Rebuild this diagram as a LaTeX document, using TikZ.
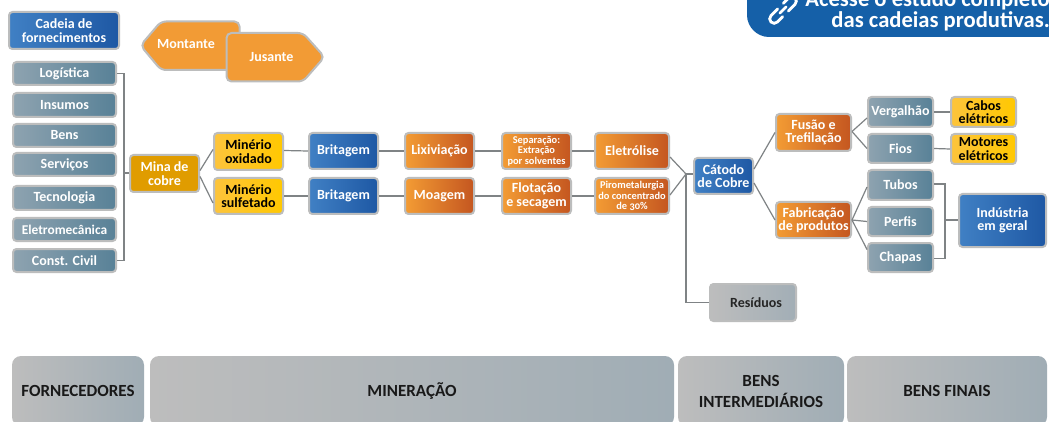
\documentclass[tikz,border=0pt]{standalone}
\usepackage{fontspec}
\setmainfont[Numbers=OldStyle]{Carlito}
\usetikzlibrary{calc}
\definecolor{edgegray}{HTML}{BCBDBD}
\definecolor{linkgray}{HTML}{7F8385}
\definecolor{bannerblue}{HTML}{1560A8}
\definecolor{orangeflat}{HTML}{F29B35}
\definecolor{blueL}{HTML}{4080C4}
\definecolor{blueR}{HTML}{1E58A4}
\definecolor{steelL}{HTML}{8EA3B0}
\definecolor{steelR}{HTML}{588197}
\definecolor{orangeL}{HTML}{F39C34}
\definecolor{orangeR}{HTML}{C45620}
\definecolor{yellowL}{HTML}{FDC43C}
\definecolor{yellowR}{HTML}{FFC800}
\definecolor{minaC}{HTML}{E09C00}
\definecolor{grayL}{HTML}{BDBDBD}
\definecolor{grayR}{HTML}{A2AEB6}
\definecolor{bandR}{HTML}{A0ADB5}
\tikzset{
  x=1pt,y=-1pt,
  boxbase/.style={draw=edgegray,line width=2pt,rounded corners=3.5pt,inner sep=0pt,align=center,font=\bfseries\fontsize{14}{13.5}\selectfont},
  blueb/.style={boxbase,left color=blueL,right color=blueR,text=white},
  steelb/.style={boxbase,left color=steelL,right color=steelR,text=white},
  orangeb/.style={boxbase,left color=orangeL,right color=orangeR,text=white},
  yellowb/.style={boxbase,left color=yellowL,right color=yellowR,text=black},
  minab/.style={boxbase,fill=minaC,text=white},
  grayb/.style={boxbase,left color=grayL,right color=grayR,text=black!85},
  bandb/.style={rounded corners=9pt,inner sep=0pt,align=center,left color=grayL,right color=bandR,text=black!90,font=\bfseries\fontsize{17}{21}\selectfont},
  hexb/.style={draw=edgegray,line width=2pt,rounded corners=5pt,fill=orangeflat},
  hextext/.style={text=white,inner sep=0pt,font=\bfseries\fontsize{14}{13.5}\selectfont},
  conn/.style={draw=linkgray,line width=1.2pt},
  smalltext/.style={font=\bfseries\fontsize{10.4}{10.5}\selectfont},
  tightertext/.style={font=\bfseries\fontsize{13.4}{13.5}\selectfont},
}
\newcommand{\bx}[7]{%
  \pgfmathsetmacro{\bxw}{#5-#3-2}%
  \pgfmathsetmacro{\bxh}{#6-#4-2}%
  \pgfmathsetmacro{\bxx}{(#3+#5)/2}%
  \pgfmathsetmacro{\bxy}{(#4+#6)/2}%
  \node[#2,minimum width=\bxw pt,minimum height=\bxh pt] (#1) at (\bxx,\bxy) {#7};}
\begin{document}
\begin{tikzpicture}
\useasboundingbox (0,0) rectangle (1049,422);
\fill[white] (0,0) rectangle (1049,422);
% banner
\fill[bannerblue] (747,-20) -- (747,15) .. controls (747,27) and (757,37) .. (769,37) -- (1060,37) -- (1060,-20) -- cycle;
\node[text=white,anchor=north east,inner sep=0pt,align=right,font=\bfseries\fontsize{22.6}{21}\selectfont] (bannertext) at (1050,-9.5) {Acesse o estudo completo\\das cadeias produtivas.};
\begin{scope}[shift={(783,10)},rotate=45,line width=2.8pt,white,line cap=round,rounded corners=4.5pt]
  \draw (-3,-4.5) -- (-17,-4.5) -- (-17,4.5) -- (-5,4.5);
  \draw (-4.5,0) -- (4.5,0);
  \draw (3,4.5) -- (17,4.5) -- (17,-4.5) -- (5,-4.5);
\end{scope}
% top legend
\bx{cadeia}{blueb}{8}{11}{120}{50}{Cadeia de\\fornecimentos}
\draw[hexb] (140.5,45.5) -- (161,21.5) -- (239.5,21.5) -- (239.5,70) -- (161,70) -- cycle;
\node[hextext] (montante) at (186,44.5) {Montante};
\draw[hexb] (226.5,33) -- (303,33) -- (324.5,57) -- (303,81.5) -- (226.5,81.5) -- cycle;
\node[hextext] (jusante) at (271.5,57) {Jusante};
% suppliers
\bx{logistica}{steelb}{12}{61}{117}{86}{Logística}
\bx{insumos}{steelb}{12}{92}{117}{118}{Insumos}
\bx{bens}{steelb}{12}{123}{117}{148}{Bens}
\bx{servicos}{steelb}{12}{152}{117}{177}{Serviços}
\bx{tecnologia}{steelb}{12}{185}{117}{211}{Tecnologia}
\bx{eletromec}{steelb,tightertext}{12}{217}{117}{242}{Eletromecânica}
\bx{constcivil}{steelb}{12}{248}{117}{273}{Const. Civil}
\bx{mina}{minab}{129}{154}{200}{193}{Mina de\\cobre}
% process rows
\bx{oxidado}{yellowb}{213}{132}{284}{171}{Minério\\oxidado}
\bx{sulfetado}{yellowb}{213}{177}{284}{215}{Minério\\sulfetado}
\bx{britagemA}{blueb}{308}{132}{379}{170}{Britagem}
\bx{britagemB}{blueb}{308}{177}{379}{215}{Britagem}
\bx{lixiviacao}{orangeb}{404}{132}{475}{170}{Lixiviação}
\bx{moagem}{orangeb}{404}{177}{475}{215}{Moagem}
\bx{separacao}{orangeb,smalltext}{501}{132}{572}{170}{Separação:\\Extração\\por solventes}
\bx{flotacao}{orangeb}{501}{177}{572}{215}{Flotação\\e secagem}
\bx{eletrolise}{orangeb}{594}{132}{670}{170}{Eletrólise}
\bx{piro}{orangeb,smalltext}{594}{177}{670}{215}{Pirometalurgia\\do concentrado\\de 30\%}
\bx{catodo}{blueb}{693}{157}{754}{195}{Cátodo\\de Cobre}
\bx{residuos}{grayb}{709}{283}{797}{322}{\hspace*{6pt}Resíduos}
\bx{fusao}{orangeb}{775}{113}{852}{152}{Fusão e\\Trefilação}
\bx{fabricacao}{orangeb}{775}{201}{852}{239}{Fabricação\\de produtos}
\bx{vergalhao}{steelb}{867}{96}{934}{128}{Vergalhão}
\bx{fios}{steelb}{867}{133}{934}{164}{Fios}
\bx{tubos}{steelb}{867}{169}{934}{201}{Tubos}
\bx{perfis}{steelb}{867}{206}{934}{237}{Perfis}
\bx{chapas}{steelb}{867}{242}{934}{273}{Chapas}
\bx{cabos}{yellowb}{950}{96}{1017}{128}{Cabos\\elétricos}
\bx{motores}{yellowb}{950}{133}{1017}{165}{Motores\\elétricos}
\bx{industria}{blueb}{958}{193}{1047}{248}{Indústria\\em geral}
% bands
\bx{bandforn}{bandb}{11}{355}{145}{427}{FORNECEDORES}
\bx{bandmin}{bandb}{149}{355}{675}{427}{MINERAÇÃO}
\bx{bandint}{bandb}{677}{355}{845}{427}{BENS\\INTERMEDIÁRIOS}
\bx{bandfin}{bandb}{846}{355}{1048}{427}{BENS FINAIS}
% connectors
\coordinate (busL) at (124,173);
\coordinate (busR) at (686,174);
\coordinate (busT) at (945,220);
\draw[conn] (logistica.east) -- (logistica.east -| busL) -- (constcivil.east -| busL) -- (constcivil.east);
\draw[conn] (busL) -- (mina.west |- busL);
\draw[conn] ($(mina.east)+(0,-3)$) -- ($(oxidado.west)+(0,-2)$);
\draw[conn] ($(mina.east)+(0,3)$) -- ($(sulfetado.west)+(0,7)$);
\draw[conn] ($(oxidado.east)+(0,-1)$) -- (britagemA.west);
\draw[conn] (sulfetado.east) -- (britagemB.west);
\draw[conn] (britagemA.east) -- (lixiviacao.west);
\draw[conn] (britagemB.east) -- (moagem.west);
\draw[conn] (lixiviacao.east) -- (separacao.west);
\draw[conn] (moagem.east) -- (flotacao.west);
\draw[conn] (separacao.east) -- (eletrolise.west);
\draw[conn] (flotacao.east) -- (piro.west);
\draw[conn] ($(eletrolise.east)+(0,6)$) -- (busR);
\draw[conn] ($(piro.east)+(0,-1)$) -- (busR);
\draw[conn] (busR) -- (catodo.west |- busR);
\draw[conn] (busR) -- (busR |- residuos.west) -- (residuos.west);
\draw[conn] ($(catodo.east)+(0,-7)$) -- (fusao.west);
\draw[conn] ($(catodo.east)+(0,7)$) -- (fabricacao.west);
\draw[conn] ($(fusao.east)+(0,-1)$) -- ($(vergalhao.west)+(0,6)$);
\draw[conn] ($(fusao.east)+(0,-1)$) -- (fios.west);
\draw[conn] (fabricacao.east) -- ($(tubos.west)+(0,2)$);
\draw[conn] (fabricacao.east) -- (perfis.west);
\draw[conn] (fabricacao.east) -- ($(chapas.west)+(0,-8)$);
\draw[conn] (vergalhao.east) -- (cabos.west);
\draw[conn] (fios.east) -- (motores.west);
\draw[conn] ($(tubos.east)+(0,-1)$) -- ($(tubos.east)+(11,-1)$) -- ($(chapas.east)+(11,1)$) -- ($(chapas.east)+(0,1)$);
\draw[conn] (busT) -- (industria.west |- busT);
\end{tikzpicture}
\end{document}
